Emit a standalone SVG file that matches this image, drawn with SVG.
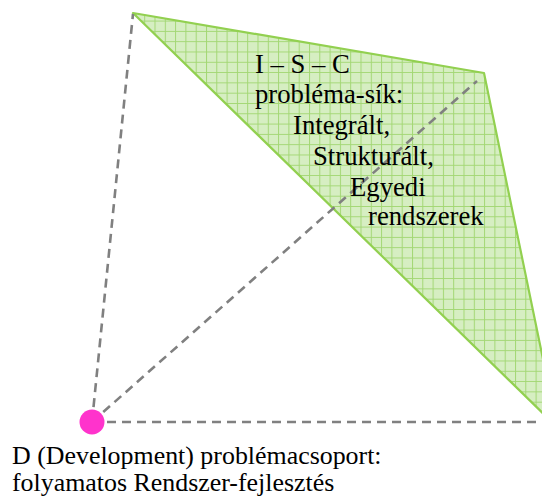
<svg xmlns="http://www.w3.org/2000/svg" width="542" height="497" viewBox="0 0 542 497">
  <defs>
    <pattern id="grid" x="0" y="0" width="10.3" height="10.3" patternUnits="userSpaceOnUse">
      <rect width="10.3" height="10.3" fill="#d6eec2"/>
      <path d="M0 0.5 H10.3 M0.5 0 V10.3" stroke="#a3d774" stroke-width="1" fill="none"/>
    </pattern>
  </defs>
  <style>
    .dash { stroke: #808080; stroke-width: 2.6; stroke-dasharray: 9 6; fill: none; }
    .plane { fill: url(#grid); stroke: #92d050; stroke-width: 2.2; stroke-linejoin: round; }
    text { fill: #000; }
    .in { font-size: 26.7px; }
    .out { font-size: 25.9px; }
  </style>

  <!-- I-S-C problem plane -->
  <g id="plane">
    <polygon class="plane" points="133,13 484,73 557,427"/>
  </g>

  <!-- dashed axes from the origin -->
  <g id="connectors">
    <line class="dash" x1="92" y1="422" x2="133" y2="14"/>
    <line class="dash" x1="92" y1="422" x2="477" y2="81"/>
    <line class="dash" x1="92" y1="422" x2="542" y2="422"/>
  </g>

  <!-- origin point D -->
  <g id="origin">
    <circle cx="92" cy="422" r="12.5" fill="#ff33cc"/>
  </g>

  <g id="plane-label" font-family="Liberation Serif, serif">
    <text class="in" x="255" y="73">I – S – C</text>
    <text class="in" x="255" y="103">probléma-sík:</text>
    <text class="in" x="293" y="134">Integrált,</text>
    <text class="in" x="313" y="165">Strukturált,</text>
    <text class="in" x="350" y="196">Egyedi</text>
    <text class="in" x="368" y="225">rendszerek</text>
  </g>

  <g id="origin-label" font-family="Liberation Serif, serif">
    <text class="out" x="12" y="464">D (Development) problémacsoport:</text>
    <text class="out" x="12" y="491">folyamatos Rendszer-fejlesztés</text>
  </g>
</svg>
